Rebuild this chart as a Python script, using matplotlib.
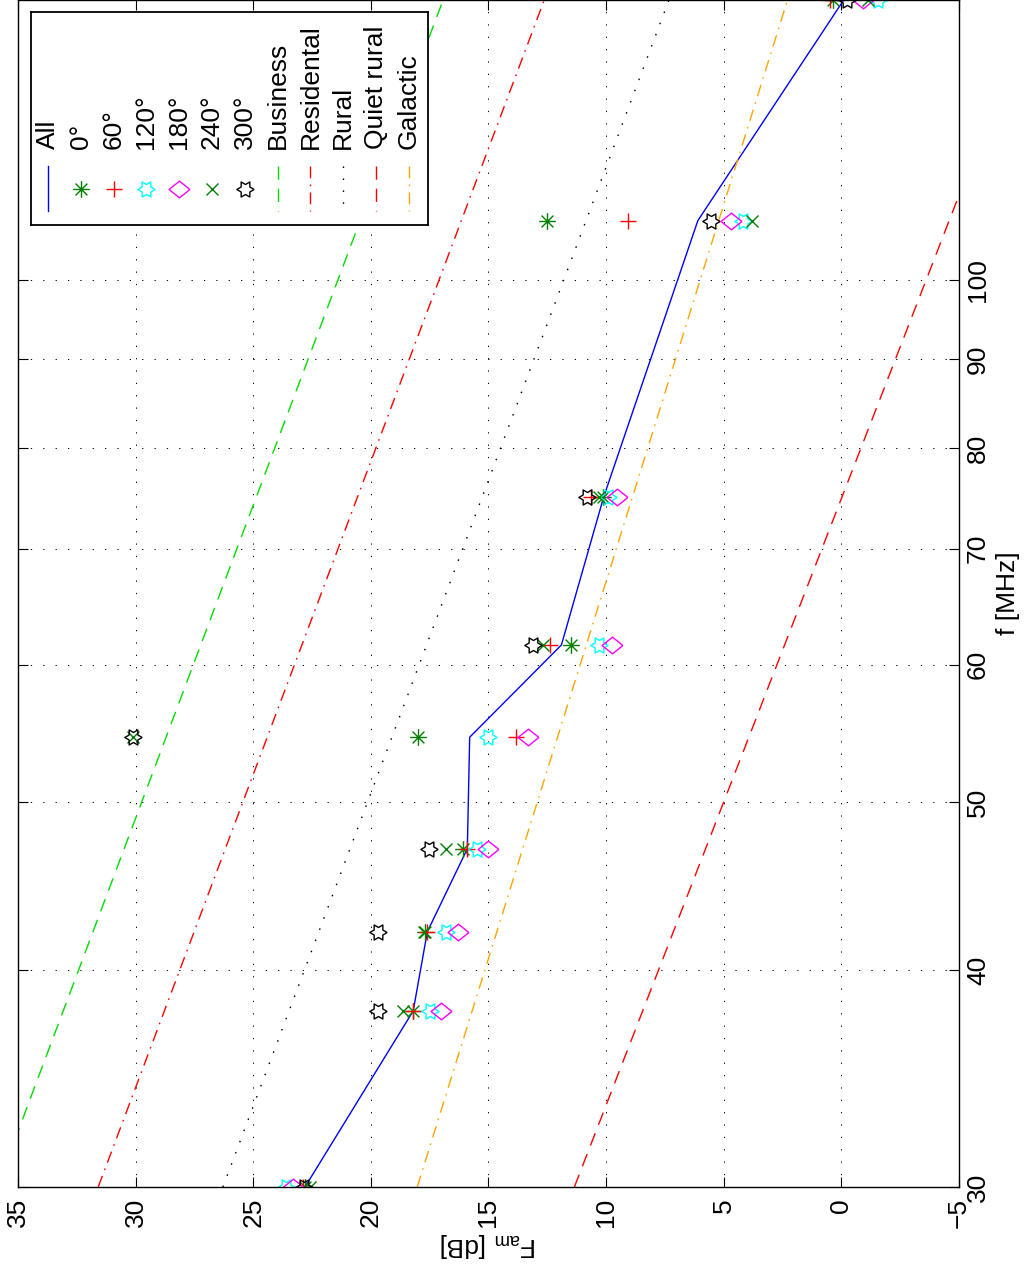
import numpy as np
import matplotlib
matplotlib.use("Agg")
import matplotlib.pyplot as plt
from matplotlib import rcParams
from matplotlib.path import Path
from matplotlib.ticker import NullLocator

rcParams['font.family'] = ['Liberation Sans', 'DejaVu Sans']
rcParams['mathtext.fontset'] = 'custom'
rcParams['mathtext.rm'] = 'Liberation Sans'
rcParams['mathtext.it'] = 'Liberation Sans:italic'
rcParams['lines.scale_dashes'] = False

# measured frequencies [MHz]
freqs = [30, 37.9, 42.1, 47.0, 54.5, 61.6, 75.0, 108.2, 145.0]

# F_am [dB] per direction
all_dirs = [22.8, 18.2, 17.6, 15.9, 15.8, 11.9, 10.1, 6.1, -0.1]
deg0 = [22.8, 18.2, 17.7, 16.1, 18.0, 11.5, 10.15, 12.5, 0.35]
deg60 = [22.9, 18.2, 17.6, 15.9, 13.85, 12.4, 10.65, 9.05, 0.5]
deg120 = [23.6, 17.5, 16.8, 15.5, 15.0, 10.3, 9.9, 4.2, -1.55]
deg180 = [23.3, 17.0, 16.3, 15.0, 13.3, 9.75, 9.55, 4.7, -0.9]
deg240 = [22.6, 18.65, 17.75, 16.8, 30.1, 12.7, 10.3, 3.8, -1.15]
deg300 = [22.85, 19.7, 19.7, 17.55, 30.1, 13.1, 10.8, 5.55, -0.25]

# reference noise lines (end points at 30 and 145 MHz)
f_ends = [30, 145]
business = [35.89, 16.93]
residental = [31.59, 12.63]
rural = [26.29, 7.33]
quiet_rural = [11.35, -8.22]
galactic = [18.03, 2.29]

f_ticks = [30, 40, 50, 60, 70, 80, 90, 100]
F_ticks = [35, 30, 25, 20, 15, 10, 5, 0, -5]
F_ticklabels = ['35', '30', '25', '20', '15', '10', '5', '0', '\u22125']

# custom markers (matlab style)
M, L = Path.MOVETO, Path.LINETO
asterisk = Path([(-1, 0), (1, 0), (0, -1), (0, 1), (-.71, -.71), (.71, .71), (-.71, .71), (.71, -.71)],
                [M, L, M, L, M, L, M, L])
ang = np.arange(12) * np.pi / 6
rad = np.where(np.arange(12) % 2 == 0, 1.0, 0.577)
hexagram = Path(np.column_stack([rad * np.cos(ang), rad * np.sin(ang)]).tolist() + [(1, 0)])
diamond = Path([(1, 0), (0, 0.8), (-1, 0), (0, -0.8), (1, 0)])

fs = 19
W, H = 1031, 1271
fig = plt.figure(figsize=(W / 100, H / 100), dpi=100)
ax = fig.add_axes([18 / W, 1 - 1187 / H, (959 - 18) / W, 1187 / H])

dots = (0, (1.1, 7.5))
dashes = (0, (9.5, 6.5))
dashdot = (0, (8.5, 4.5, 1.2, 4.5))

series = [
    dict(label='All', x=all_dirs, y=freqs, color='#0000ff', ls='-', marker=None, ms=0),
    dict(label='0°', x=deg0, y=freqs, color='#008000', ls='none', marker=asterisk, ms=12),
    dict(label='60°', x=deg60, y=freqs, color='#ff0000', ls='none', marker='+', ms=11),
    dict(label='120°', x=deg120, y=freqs, color='#00ffff', ls='none', marker=hexagram, ms=12.5),
    dict(label='180°', x=deg180, y=freqs, color='#ff00ff', ls='none', marker=diamond, ms=15),
    dict(label='240°', x=deg240, y=freqs, color='#008000', ls='none', marker='x', ms=8.5),
    dict(label='300°', x=deg300, y=freqs, color='#000000', ls='none', marker=hexagram, ms=12.5),
    dict(label='Business', x=business, y=f_ends, color='#00dd00', ls=dashes, marker=None, ms=0),
    dict(label='Residental', x=residental, y=f_ends, color='#ff0000', ls=dashdot, marker=None, ms=0),
    dict(label='Rural', x=rural, y=f_ends, color='#000000', ls=dots, marker=None, ms=0),
    dict(label='Quiet rural', x=quiet_rural, y=f_ends, color='#ff0000', ls=dashes, marker=None, ms=0),
    dict(label='Galactic', x=galactic, y=f_ends, color='#ffa500', ls=dashdot, marker=None, ms=0),
]

for s in series:
    ax.plot(s['x'], s['y'], color=s['color'], linestyle=s['ls'], lw=1.0,
            marker=s['marker'], ms=s['ms'], mfc='none', mec=s['color'], mew=1.0)

ax.set_yscale('log')
ax.set_xlim(35, -5)
ax.set_ylim(30, 145)
ax.set_xticks(F_ticks)
ax.set_xticklabels(F_ticklabels)
ax.set_yticks(f_ticks)
ax.set_yticklabels([str(v) for v in f_ticks])
ax.yaxis.set_minor_locator(NullLocator())
ax.yaxis.tick_right()
ax.yaxis.set_label_position('right')
ax.tick_params(direction='in', length=7, width=0.8, top=True, bottom=True, left=True, right=True,
               labelsize=fs)
ax.tick_params(axis='x', labelrotation=90, pad=8)
ax.tick_params(axis='y', labelrotation=90, pad=5)
for lab in ax.get_yticklabels():
    lab.set_va('center')
ax.grid(True, color='k', linestyle=(0, (0.9, 8)), lw=0.7)
for sp in ax.spines.values():
    sp.set_linewidth(1.0)

ax.set_xlabel(r'F$_{\mathrm{am}}$ [dB]', fontsize=fs, rotation=180, labelpad=2)
ax.set_ylabel('f [MHz]', fontsize=fs, rotation=90, labelpad=4)

# legend drawn by hand, rotated like the rest of the figure
lx0, lx1, ly0, ly1 = 31, 428, 12, 225
lg = fig.add_axes([lx0 / W, 1 - ly1 / H, (lx1 - lx0) / W, (ly1 - ly0) / H], zorder=5)
lg.set_xlim(lx0, lx1)
lg.set_ylim(ly1, ly0)
lg.set_xticks([])
lg.set_yticks([])
lg.set_facecolor('white')
for sp in lg.spines.values():
    sp.set_linewidth(1.3)

for i, s in enumerate(series):
    x = 48 + 32.8 * i
    if s['marker'] is None:
        lg.plot([x, x], [166, 211], color=s['color'], linestyle=s['ls'], lw=1.0)
    else:
        lg.plot([x], [189], linestyle='none', marker=s['marker'], ms=s['ms'], mfc='none',
                mec=s['color'], mew=1.0)
    lg.text(x, 149, s['label'], rotation=90, ha='center', va='bottom', fontsize=fs)

fig.savefig('out.png', dpi=100)
